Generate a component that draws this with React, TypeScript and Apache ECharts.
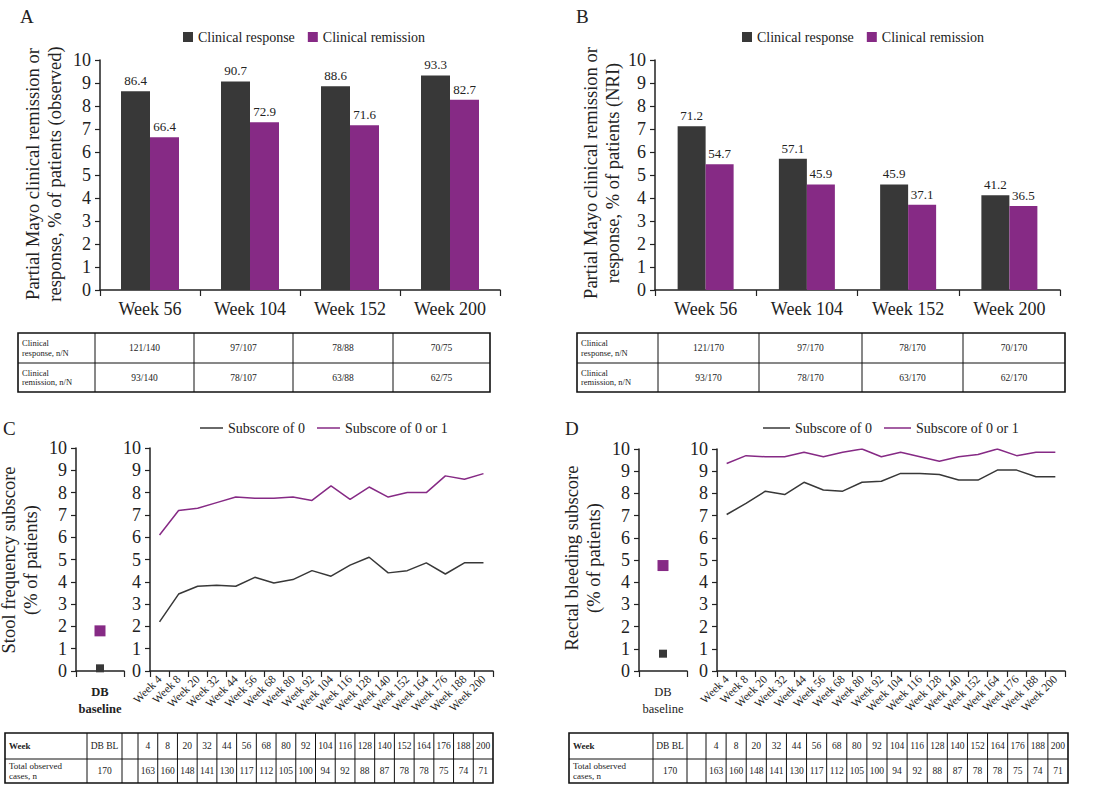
import React, { useEffect, useRef } from "react";
import * as echarts from "echarts";

const SERIF = "'Liberation Serif', 'Times New Roman', serif";
const INK = "#222222";
const DARK = "#383838";
const PURPLE = "#862a85";

// ---- Panels A & B: partial Mayo response / remission ----
const barWeeks = ["Week 56", "Week 104", "Week 152", "Week 200"];
const observedResponse = [86.4, 90.7, 88.6, 93.3];
const observedRemission = [66.4, 72.9, 71.6, 82.7];
const nriResponse = [71.2, 57.1, 45.9, 41.2];
const nriRemission = [54.7, 45.9, 37.1, 36.5];
const observedResponseN = ["121/140", "97/107", "78/88", "70/75"];
const observedRemissionN = ["93/140", "78/107", "63/88", "62/75"];
const nriResponseN = ["121/170", "97/170", "78/170", "70/170"];
const nriRemissionN = ["93/170", "78/170", "63/170", "62/170"];

// ---- Panels C & D: subscores over time ----
const visitWeeks = [4, 8, 20, 32, 44, 56, 68, 80, 92, 104, 116, 128, 140, 152, 164, 176, 188, 200];
const observedCases = [163, 160, 148, 141, 130, 117, 112, 105, 100, 94, 92, 88, 87, 78, 78, 75, 74, 71];
const baselineCases = 170;
const stoolSubscore0 = [22, 34.5, 38, 38.5, 38, 42, 39.5, 41, 45, 42.5, 47.5, 51, 44, 45, 48.5, 43.5, 48.5, 48.5];
const stoolSubscore01 = [61, 72, 73, 75.5, 78, 77.5, 77.5, 78, 76.5, 83, 77, 82.5, 78, 80, 80, 87.5, 86, 88.5];
const stoolBaseline0 = 1.2;
const stoolBaseline01 = 18;
const bleedSubscore0 = [70.5, 75.5, 81, 79.5, 85, 81.5, 81, 85, 85.5, 89, 89, 88.5, 86, 86, 90.5, 90.5, 87.5, 87.5];
const bleedSubscore01 = [93.5, 97, 96.5, 96.5, 98.5, 96.5, 98.5, 100, 96.5, 98.5, 96.5, 94.5, 96.5, 97.5, 100, 97, 98.5, 98.5];
const bleedBaseline0 = 7.8;
const bleedBaseline01 = 47.5;

const weekLabels = visitWeeks.map((w) => `Week ${w}`);

function valueAxis(gridIndex: number, fontSize: number, margin: number) {
  return {
    type: "value",
    gridIndex,
    min: 0,
    max: 100,
    interval: 10,
    axisLine: { show: true, lineStyle: { color: INK, width: 1.5 } },
    axisTick: { show: true, length: 5, lineStyle: { color: INK, width: 1.2 } },
    splitLine: { show: false },
    axisLabel: {
      formatter: (v: number) => String(v / 10),
      fontFamily: SERIF,
      fontSize,
      color: INK,
      margin,
    },
  };
}

function categoryAxis(gridIndex: number, data: string[], label: any) {
  return {
    type: "category",
    gridIndex,
    data,
    boundaryGap: true,
    axisLine: { show: true, lineStyle: { color: INK, width: 1.5 } },
    axisTick: { show: true, length: 6, alignWithLabel: false, lineStyle: { color: INK, width: 1.2 } },
    axisLabel: { interval: 0, fontFamily: SERIF, color: INK, ...label },
  };
}

function txt(x: number, y: number, text: string, size: number, extra: any = {}) {
  return {
    type: "text",
    x,
    y,
    silent: true,
    style: {
      text,
      fontFamily: SERIF,
      fontSize: size,
      fill: INK,
      align: "left",
      verticalAlign: "middle",
      ...extra,
    },
  };
}

function table(x0: number, y0: number, colW: number[], rowH: number[], rows: string[][], firstSize: number, valSize: number, firstBold: boolean[]) {
  const els: any[] = [];
  const totalW = colW.reduce((a, b) => a + b, 0);
  const totalH = rowH.reduce((a, b) => a + b, 0);
  els.push({ type: "rect", silent: true, shape: { x: x0, y: y0, width: totalW, height: totalH }, style: { fill: "none", stroke: "#111", lineWidth: 1.6 } });
  let cx = x0;
  for (let i = 0; i < colW.length - 1; i++) {
    cx += colW[i];
    els.push({ type: "line", silent: true, shape: { x1: cx, y1: y0, x2: cx, y2: y0 + totalH }, style: { stroke: "#111", lineWidth: 1 } });
  }
  let cy = y0;
  for (let r = 0; r < rowH.length - 1; r++) {
    cy += rowH[r];
    els.push({ type: "line", silent: true, shape: { x1: x0, y1: cy, x2: x0 + totalW, y2: cy }, style: { stroke: "#111", lineWidth: 1 } });
  }
  let ry = y0;
  rows.forEach((row, r) => {
    const mid = ry + rowH[r] / 2;
    let x = x0;
    row.forEach((cell, c) => {
      if (c === 0) {
        els.push(txt(x + 4, mid, cell, firstSize, { lineHeight: firstSize + 1, fontWeight: firstBold[r] ? "bold" : "normal" }));
      } else if (cell !== "") {
        els.push(txt(x + colW[c] / 2, mid, cell, valSize, { align: "center" }));
      }
      x += colW[c];
    });
    ry += rowH[r];
  });
  return els;
}

export default function App() {
  const ref = useRef<HTMLDivElement>(null);

  useEffect(() => {
    if (!ref.current) return;
    const chart = echarts.init(ref.current, null, { renderer: "svg" });

    const barLabel = {
      show: true,
      position: "top",
      distance: 4,
      fontFamily: SERIF,
      fontSize: 13,
      color: INK,
      formatter: (p: any) => Number(p.value).toFixed(1),
    };

    const legendText = { fontFamily: SERIF, fontSize: 14, color: INK };

    const graphics: any[] = [
      txt(20, 16, "A", 19),
      txt(576, 16, "B", 19),
      txt(3, 428, "C", 19),
      txt(565, 428, "D", 19),
      txt(44, 174, "Partial Mayo clinical remission or\nresponse, % of patients (observed)", 18.5, { align: "center", lineHeight: 22 }),
      txt(602, 173, "Partial Mayo clinical remission or\nresponse, % of patients (NRI)", 18.5, { align: "center", lineHeight: 22 }),
      txt(20, 560, "Stool frequency subscore\n(% of patients)", 18.5, { align: "center", lineHeight: 22 }),
      txt(583, 558, "Rectal bleeding subscore\n(% of patients)", 18.5, { align: "center", lineHeight: 22 }),
    ];
    // rotate axis titles
    for (let i = 4; i < 8; i++) graphics[i].rotation = Math.PI / 2;

    graphics.push(
      ...table(18, 333, [77, 99, 99, 100, 97], [30, 29], [
        ["Clinical\nresponse, n/N", ...observedResponseN],
        ["Clinical\nremission, n/N", ...observedRemissionN],
      ], 8.5, 9.5, [false, false]),
      ...table(577, 333, [81, 101, 103, 101, 102], [30, 29], [
        ["Clinical\nresponse, n/N", ...nriResponseN],
        ["Clinical\nremission, n/N", ...nriRemissionN],
      ], 8.5, 9.5, [false, false]),
      ...table(5, 733, [82, 35, 16, ...visitWeeks.map(() => 355 / 18)], [26, 24], [
        ["Week", "DB BL", "", ...visitWeeks.map(String)],
        ["Total observed\ncases, n", String(baselineCases), "", ...observedCases.map(String)],
      ], 9, 9.5, [true, false]),
      ...table(569, 733, [84, 34, 19, ...visitWeeks.map(() => 362 / 18)], [26, 24], [
        ["Week", "DB BL", "", ...visitWeeks.map(String)],
        ["Total observed\ncases, n", String(baselineCases), "", ...observedCases.map(String)],
      ], 9, 9.5, [true, false])
    );

    const weekAxisLabel = { rotate: 45, fontSize: 11.5, margin: 6 };

    const option: any = {
      animation: false,
      backgroundColor: "#ffffff",
      textStyle: { fontFamily: SERIF },
      grid: [
        { left: 100, top: 60, width: 400, height: 230, outerBoundsMode: "none" },
        { left: 655, top: 60, width: 405, height: 230, outerBoundsMode: "none" },
        { left: 76, top: 448, width: 48, height: 223, outerBoundsMode: "none" },
        { left: 150, top: 448, width: 343, height: 223, outerBoundsMode: "none" },
        { left: 639, top: 449, width: 48, height: 222, outerBoundsMode: "none" },
        { left: 717, top: 449, width: 348, height: 222, outerBoundsMode: "none" },
      ],
      legend: [
        {
          left: 183, top: 30, padding: 0, itemWidth: 10, itemHeight: 10, itemGap: 13,
          data: [{ name: "Clinical response", icon: "rect" }, { name: "Clinical remission", icon: "rect" }],
          textStyle: legendText,
        },
        {
          left: 742, top: 30, padding: 0, itemWidth: 10, itemHeight: 10, itemGap: 13,
          data: [{ name: "Clinical response", icon: "rect" }, { name: "Clinical remission", icon: "rect" }],
          textStyle: legendText,
        },
        {
          left: 200, top: 421, padding: 0, itemWidth: 23, itemHeight: 1.5, itemGap: 12,
          data: [{ name: "Subscore of 0", icon: "rect" }, { name: "Subscore of 0 or 1", icon: "rect" }],
          textStyle: legendText,
        },
        {
          left: 763, top: 421, padding: 0, itemWidth: 27, itemHeight: 1.5, itemGap: 12,
          data: [{ name: "Subscore of 0", icon: "rect" }, { name: "Subscore of 0 or 1", icon: "rect" }],
          textStyle: legendText,
        },
      ],
      xAxis: [
        categoryAxis(0, barWeeks, { fontSize: 18, margin: 10 }),
        categoryAxis(1, barWeeks, { fontSize: 18, margin: 10 }),
        categoryAxis(2, ["DB\nbaseline"], { fontSize: 12.5, fontWeight: "bold", lineHeight: 17, margin: 12 }),
        categoryAxis(3, weekLabels, weekAxisLabel),
        categoryAxis(4, ["DB\nbaseline"], { fontSize: 12.5, lineHeight: 17, margin: 12 }),
        categoryAxis(5, weekLabels, weekAxisLabel),
      ],
      yAxis: [
        valueAxis(0, 18, 9),
        valueAxis(1, 18, 9),
        valueAxis(2, 18, 9),
        valueAxis(3, 18, 9),
        valueAxis(4, 18, 9),
        valueAxis(5, 18, 9),
      ],
      series: [
        { name: "Clinical response", type: "bar", xAxisIndex: 0, yAxisIndex: 0, data: observedResponse, barWidth: 29, barGap: "0%", itemStyle: { color: DARK }, label: barLabel },
        { name: "Clinical remission", type: "bar", xAxisIndex: 0, yAxisIndex: 0, data: observedRemission, barWidth: 29, barGap: "0%", itemStyle: { color: PURPLE }, label: barLabel },
        { name: "Clinical response", type: "bar", xAxisIndex: 1, yAxisIndex: 1, data: nriResponse, barWidth: 28, barGap: "0%", itemStyle: { color: DARK }, label: barLabel },
        { name: "Clinical remission", type: "bar", xAxisIndex: 1, yAxisIndex: 1, data: nriRemission, barWidth: 28, barGap: "0%", itemStyle: { color: PURPLE }, label: barLabel },

        { name: "Subscore of 0", type: "line", xAxisIndex: 3, yAxisIndex: 3, data: stoolSubscore0, symbol: "none", lineStyle: { color: DARK, width: 1.5 }, itemStyle: { color: DARK } },
        { name: "Subscore of 0 or 1", type: "line", xAxisIndex: 3, yAxisIndex: 3, data: stoolSubscore01, symbol: "none", lineStyle: { color: PURPLE, width: 1.5 }, itemStyle: { color: PURPLE } },
        { name: "Subscore of 0", type: "scatter", xAxisIndex: 2, yAxisIndex: 2, data: [stoolBaseline0], symbol: "rect", symbolSize: 8, itemStyle: { color: DARK, opacity: 1 } },
        { name: "Subscore of 0 or 1", type: "scatter", xAxisIndex: 2, yAxisIndex: 2, data: [stoolBaseline01], symbol: "rect", symbolSize: 11, itemStyle: { color: PURPLE, opacity: 1 } },

        { name: "Subscore of 0", type: "line", xAxisIndex: 5, yAxisIndex: 5, data: bleedSubscore0, symbol: "none", lineStyle: { color: DARK, width: 1.5 }, itemStyle: { color: DARK } },
        { name: "Subscore of 0 or 1", type: "line", xAxisIndex: 5, yAxisIndex: 5, data: bleedSubscore01, symbol: "none", lineStyle: { color: PURPLE, width: 1.5 }, itemStyle: { color: PURPLE } },
        { name: "Subscore of 0", type: "scatter", xAxisIndex: 4, yAxisIndex: 4, data: [bleedBaseline0], symbol: "rect", symbolSize: 8, itemStyle: { color: DARK, opacity: 1 } },
        { name: "Subscore of 0 or 1", type: "scatter", xAxisIndex: 4, yAxisIndex: 4, data: [bleedBaseline01], symbol: "rect", symbolSize: 11, itemStyle: { color: PURPLE, opacity: 1 } },
      ],
      graphic: graphics,
    };

    chart.setOption(option);
    return () => chart.dispose();
  }, []);

  return (
    <div
      ref={ref}
      style={{ position: "absolute", left: 0, top: 0, width: 1113, height: 793, background: "#fff" }}
    />
  );
}
